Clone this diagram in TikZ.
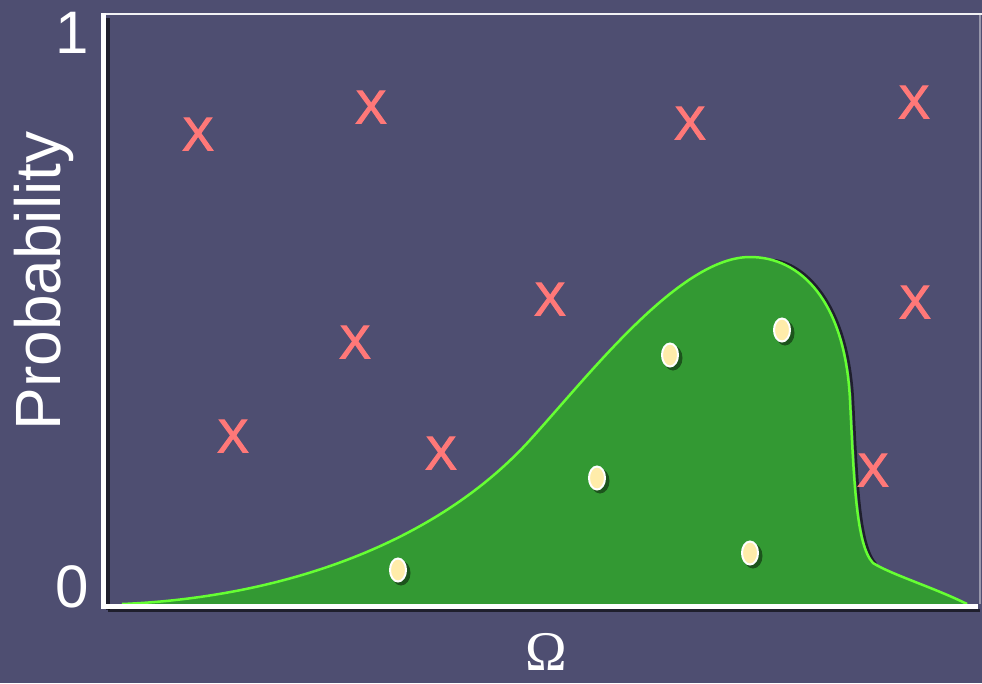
\documentclass[tikz,border=0pt]{standalone}
\usepackage{fontspec}
\setmainfont{Liberation Sans}
\newfontfamily\omfont{Liberation Serif}
\newfontfamily\xfont[FakeBold=2.5]{Liberation Sans}
\usetikzlibrary{shapes.geometric}
\definecolor{bgc}{RGB}{78,78,113}
\definecolor{gfill}{RGB}{51,153,51}
\definecolor{gline}{RGB}{102,255,51}
\definecolor{xred}{RGB}{255,120,120}
\definecolor{dotc}{RGB}{255,236,170}
\definecolor{framegray}{RGB}{150,150,170}
\begin{document}
\begin{tikzpicture}[x=1pt,y=-1pt,
  cross/.style={text=xred, font=\xfont\fontsize{47}{47}\selectfont, inner sep=0pt},
  dotnode/.style={ellipse, draw=white, line width=2pt, fill=dotc, minimum width=16pt, minimum height=23pt, inner sep=0pt},
  lbl/.style={text=white, inner sep=0pt},
  shadowline/.style={black, opacity=0.6}]
\fill[bgc] (0,0) rectangle (982,683);
\useasboundingbox (0,0) rectangle (982,683);
% frame
\draw[white!92!bgc, line width=2.5pt] (101,14) -- (982,14);
\draw[framegray, line width=1.5pt] (980,15) -- (980,604);
% curve shadow, fill, line
\draw[shadowline, line width=2.5pt, shift={(3,1)}] (770,259) .. controls (800,262) and (845,300) .. (850,400) .. controls (854,480) and (856,545) .. (873,563);
\fill[gfill] (122,604) .. controls (270,598) and (430,550) .. (530,440)
  .. controls (590,374) and (680,257) .. (750,257)
  .. controls (800,257) and (845,300) .. (850,400)
  .. controls (854,480) and (856,545) .. (873,563)
  .. controls (890,574) and (935,588) .. (967,604) -- cycle;
\draw[gline, line width=2.5pt] (122,604) .. controls (270,598) and (430,550) .. (530,440)
  .. controls (590,374) and (680,257) .. (750,257)
  .. controls (800,257) and (845,300) .. (850,400)
  .. controls (854,480) and (856,545) .. (873,563)
  .. controls (890,574) and (935,588) .. (967,604);
% axes
\draw[shadowline, line width=4pt] (108,18) -- (108,610);
\draw[shadowline, line width=3pt] (108,610) -- (980,610);
\draw[white, line width=5.5pt] (103.5,13) -- (103.5,608);
\draw[white, line width=5pt] (101,606) -- (978,606);
% labels
\node[lbl, font=\fontsize{60}{60}\selectfont] (one) at (72,33) {1};
\node[lbl, font=\fontsize{60}{60}\selectfont] (zero) at (72,587) {0};
\node[lbl, font=\fontsize{64}{64}\selectfont, rotate=90, anchor=base] (prob) at (60,281) {Probability};
\node[lbl, font=\omfont\fontsize{56}{56}\selectfont] (omega) at (546,652) {Ω};
% crosses
\node[cross] (x1) at (198,134) {X};
\node[cross] (x2) at (371,107) {X};
\node[cross] (x3) at (690,123) {X};
\node[cross] (x4) at (914,102) {X};
\node[cross] (x5) at (550,299) {X};
\node[cross] (x6) at (355,342) {X};
\node[cross] (x7) at (915,302) {X};
\node[cross] (x8) at (233,436) {X};
\node[cross] (x9) at (441,453) {X};
\node[cross] (x10) at (873,470) {X};
% dots
\foreach \p in {(398,570),(597,478),(670,355),(782,330),(750,553)}
  \fill[black, opacity=0.45, shift={(3,3)}] \p ellipse [x radius=9.5, y radius=12.5];
\node[dotnode] (d1) at (398,570) {};
\node[dotnode] (d2) at (597,478) {};
\node[dotnode] (d3) at (670,355) {};
\node[dotnode] (d4) at (782,330) {};
\node[dotnode] (d5) at (750,553) {};
\end{tikzpicture}
\end{document}
